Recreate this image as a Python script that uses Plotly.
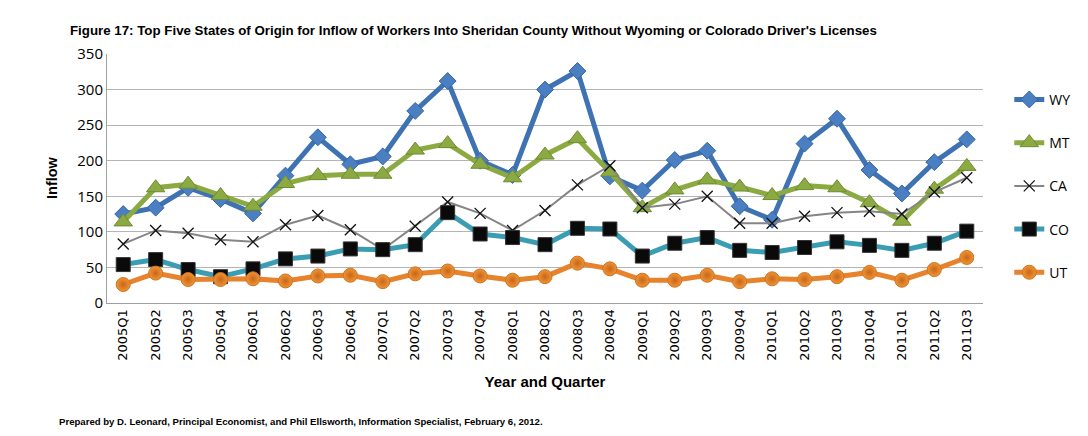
import plotly.graph_objects as go

quarters = ["2005Q1","2005Q2","2005Q3","2005Q4","2006Q1","2006Q2","2006Q3","2006Q4",
            "2007Q1","2007Q2","2007Q3","2007Q4","2008Q1","2008Q2","2008Q3","2008Q4",
            "2009Q1","2009Q2","2009Q3","2009Q4","2010Q1","2010Q2","2010Q3","2010Q4",
            "2011Q1","2011Q2","2011Q3"]

wy = [125,134,162,146,126,179,233,195,206,270,312,200,180,300,326,178,158,201,214,136,117,224,259,187,154,198,230]
mt = [114,162,167,151,136,168,179,181,181,215,224,195,176,208,231,184,134,159,173,163,151,165,162,141,115,160,192]
ca = [83,102,98,89,86,110,123,103,75,108,142,126,102,130,166,193,134,139,150,112,112,122,127,129,125,156,176]
co = [54,61,47,37,48,62,66,76,75,82,127,97,92,82,105,104,66,84,92,74,71,78,86,81,74,84,101]
ut = [26,42,33,33,34,31,38,39,30,41,45,38,32,37,56,48,32,32,39,30,34,33,37,43,32,47,64]

fig = go.Figure()

fig.add_trace(go.Scatter(x=quarters, y=wy, name="WY", mode="lines+markers", legendgroup="a",
    line=dict(color="#3e72b3", width=5),
    marker=dict(symbol="diamond", size=13, color="#4a7fc1", line=dict(color="#3566a3", width=1))))
fig.add_trace(go.Scatter(x=quarters, y=mt, name="MT", mode="lines+markers", legendgroup="b",
    line=dict(color="#8bab42", width=5),
    marker=dict(symbol="triangle-up", size=16, color="#8bab42", line=dict(color="#6f8a30", width=1))))
fig.add_trace(go.Scatter(x=quarters, y=ca, name="CA", mode="lines+markers", legendgroup="c",
    line=dict(color="#858585", width=2),
    marker=dict(symbol="x-thin", size=11, color="#111111", line=dict(color="#111111", width=1.3))))
fig.add_trace(go.Scatter(x=quarters, y=co, name="CO", mode="lines+markers", legendgroup="d",
    line=dict(color="#3b9db3", width=5),
    marker=dict(symbol="square", size=14, color="#0a0a0a", line=dict(color="#333333", width=1))))
fig.add_trace(go.Scatter(x=quarters, y=ut, name="UT", mode="lines+markers", legendgroup="e",
    line=dict(color="#e7822d", width=5),
    marker=dict(symbol="circle", size=14, color="#ee9435",
                gradient=dict(type="radial", color="#c9661a"),
                line=dict(color="#d0731f", width=1))))

fig.update_layout(
    width=1088, height=436,
    margin=dict(l=107, r=105, t=54, b=133),
    paper_bgcolor="white", plot_bgcolor="white",
    title=dict(text="Figure 17: Top Five States of Origin for Inflow of Workers Into Sheridan County Without Wyoming or Colorado Driver's Licenses",
               x=70/1088, xanchor="left", y=1 - 30/436, yanchor="middle",
               font=dict(family="Liberation Sans, Arial, sans-serif", size=13.3, color="black", weight="bold")),
    xaxis=dict(tickangle=-90, tickfont=dict(family="DejaVu Sans", size=13, color="black"),
               showgrid=False, showline=True, linecolor="#a0a0a0", linewidth=1,
               ticks="", range=[-0.5, 26.5],
               title=dict(text="<b>Year and Quarter</b>", standoff=16,
                          font=dict(family="Liberation Sans, Arial, sans-serif", size=15, color="black"))),
    yaxis=dict(range=[0, 350], dtick=50, tickfont=dict(family="Open Sans, sans-serif", size=15, color="black"),
               showgrid=True, gridcolor="#b4b4b4", gridwidth=1,
               showline=True, linecolor="#a0a0a0", linewidth=1, zeroline=False, ticks=""),
    legend=dict(x=1.03, xanchor="left", y=0.88, yanchor="top",
                font=dict(family="Open Sans, sans-serif", size=14, color="black"),
                tracegroupgap=22, itemwidth=30, bgcolor="rgba(0,0,0,0)"),
    showlegend=True,
)

fig.add_annotation(text="<b>Inflow</b>", textangle=-90,
                   xref="paper", yref="paper", x=(52-107)/876, y=(303-178)/249,
                   xanchor="center", yanchor="middle", showarrow=False,
                   font=dict(family="Liberation Sans, Arial, sans-serif", size=14.5, color="black"))

fig.add_annotation(text="<b>Prepared by D. Leonard, Principal Economist, and Phil Ellsworth, Information Specialist, February 6, 2012.</b>",
                   xref="paper", yref="paper", x=(57-107)/876, y=(303-421)/249, xanchor="left", yanchor="middle",
                   showarrow=False,
                   font=dict(family="Liberation Sans, Arial, sans-serif", size=9.6, color="black"))

fig.write_html("out.html")
